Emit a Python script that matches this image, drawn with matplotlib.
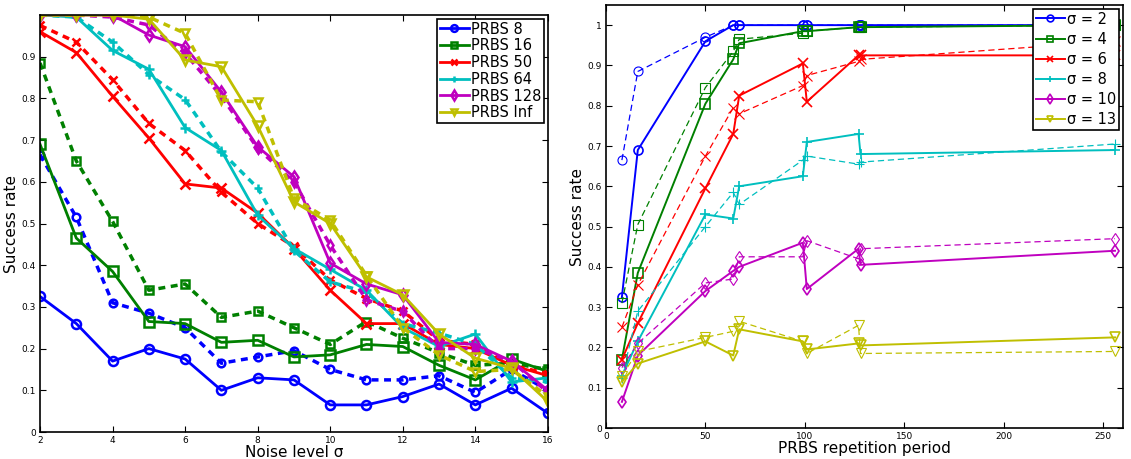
import numpy as np
import matplotlib
matplotlib.use("Agg")
import matplotlib.pyplot as plt

# colores tipo MATLAB
cols = [(0, 0, 1), (0, 0.5, 0), (1, 0, 0), (0, 0.75, 0.75), (0.75, 0, 0.75), (0.75, 0.75, 0)]
marks = ['o', 's', 'x', '+', 'd', 'v']

# Panel izquierdo: tasa de exito vs nivel de ruido
sigma = [2, 3, 4, 5, 6, 7, 8, 9, 10, 11, 12, 13, 14, 15, 16]
prbs_labels = ["PRBS 8", "PRBS 16", "PRBS 50", "PRBS 64", "PRBS 128", "PRBS Inf"]

prbs8 = [0.325, 0.26, 0.17, 0.2, 0.175, 0.1, 0.13, 0.125, 0.065, 0.065, 0.085, 0.115, 0.065, 0.105, 0.045]
prbs8_b = [0.665, 0.515, 0.31, 0.285, 0.25, 0.165, 0.18, 0.195, 0.15, 0.125, 0.125, 0.135, 0.095, 0.15, 0.1]
prbs16 = [0.69, 0.465, 0.385, 0.265, 0.26, 0.215, 0.22, 0.18, 0.185, 0.21, 0.205, 0.16, 0.125, 0.175, 0.145]
prbs16_b = [0.885, 0.65, 0.505, 0.34, 0.355, 0.275, 0.29, 0.25, 0.21, 0.265, 0.225, 0.19, 0.16, 0.165, 0.15]
prbs50 = [0.96, 0.91, 0.805, 0.705, 0.595, 0.585, 0.525, 0.44, 0.34, 0.26, 0.26, 0.21, 0.2, 0.16, 0.135]
prbs50_b = [0.975, 0.935, 0.845, 0.74, 0.675, 0.575, 0.5, 0.445, 0.365, 0.32, 0.29, 0.22, 0.21, 0.16, 0.14]
prbs64 = [1.0, 0.995, 0.915, 0.87, 0.73, 0.675, 0.52, 0.44, 0.39, 0.34, 0.25, 0.205, 0.235, 0.12, 0.13]
prbs64_b = [1.0, 0.995, 0.935, 0.857, 0.797, 0.672, 0.585, 0.435, 0.36, 0.335, 0.26, 0.237, 0.21, 0.13, 0.12]
prbs128 = [1.0, 1.0, 1.0, 0.952, 0.924, 0.815, 0.684, 0.612, 0.405, 0.355, 0.329, 0.215, 0.21, 0.17, 0.1]
prbs128_b = [1.0, 1.0, 0.995, 0.976, 0.908, 0.805, 0.68, 0.6, 0.448, 0.317, 0.289, 0.2, 0.2, 0.17, 0.095]
prbsinf = [1.0, 1.0, 1.0, 0.99, 0.892, 0.876, 0.734, 0.552, 0.5, 0.372, 0.329, 0.235, 0.177, 0.153, 0.073]
prbsinf_b = [1.0, 1.0, 1.0, 0.995, 0.956, 0.796, 0.792, 0.56, 0.508, 0.375, 0.25, 0.185, 0.145, 0.15, 0.085]

izq_sol = [prbs8, prbs16, prbs50, prbs64, prbs128, prbsinf]
izq_dash = [prbs8_b, prbs16_b, prbs50_b, prbs64_b, prbs128_b, prbsinf_b]

# Panel derecho: tasa de exito vs periodo de repeticion
periodo = [8, 16, 50, 64, 67, 99, 101, 127, 128, 256]
sig_labels = ["σ = 2", "σ = 4", "σ = 6", "σ = 8", "σ = 10", "σ = 13"]

s2 = [0.325, 0.69, 0.96, 1.0, 1.0, 1.0, 1.0, 1.0, 1.0, 1.0]
s2_b = [0.665, 0.885, 0.97, 1.0, 1.0, 1.0, 1.0, 1.0, 1.0, 1.0]
s4 = [0.17, 0.385, 0.805, 0.915, 0.955, 0.985, 0.985, 0.995, 0.995, 1.0]
s4_b = [0.31, 0.505, 0.845, 0.935, 0.965, 0.98, 0.985, 0.995, 0.995, 1.0]
s6 = [0.17, 0.26, 0.595, 0.73, 0.825, 0.905, 0.81, 0.925, 0.925, 0.925]
s6_b = [0.25, 0.355, 0.675, 0.795, 0.78, 0.85, 0.875, 0.91, 0.915, 0.96]
s8 = [0.13, 0.215, 0.53, 0.52, 0.6, 0.625, 0.71, 0.73, 0.68, 0.69]
s8_b = [0.125, 0.29, 0.5, 0.585, 0.555, 0.665, 0.675, 0.655, 0.66, 0.705]
s10 = [0.065, 0.18, 0.34, 0.39, 0.4, 0.46, 0.345, 0.445, 0.405, 0.44]
s10_b = [0.15, 0.21, 0.36, 0.37, 0.425, 0.425, 0.465, 0.42, 0.445, 0.47]
s13 = [0.115, 0.16, 0.215, 0.18, 0.245, 0.215, 0.195, 0.21, 0.205, 0.225]
s13_b = [0.13, 0.19, 0.225, 0.24, 0.265, 0.215, 0.185, 0.255, 0.185, 0.19]

der_sol = [s2, s4, s6, s8, s10, s13]
der_dash = [s2_b, s4_b, s6_b, s8_b, s10_b, s13_b]

fig = plt.figure(figsize=(11.31, 4.59), dpi=100)
ax1 = fig.add_axes([0.0354, 0.0588, 0.449, 0.9085])
ax2 = fig.add_axes([0.5358, 0.0675, 0.4571, 0.9216])

for i in range(6):
    ax1.plot(sigma, izq_dash[i], color=cols[i], marker=marks[i], mfc='none', ms=5.5,
             mew=1.8, lw=2.5, dashes=(2, 1.6))
    ax1.plot(sigma, izq_sol[i], color=cols[i], marker=marks[i], mfc='none', ms=6.5,
             mew=1.8, lw=2, label=prbs_labels[i])

for i in range(6):
    ax2.plot(periodo, der_dash[i], color=cols[i], marker=marks[i], mfc='none', ms=6.5,
             mew=0.8, lw=0.9, dashes=(5, 3))
    ax2.plot(periodo, der_sol[i], color=cols[i], marker=marks[i], mfc='none', ms=6.5,
             mew=1.2, lw=1.4, label=sig_labels[i])

ax1.set_xlim(2, 16)
ax1.set_ylim(0, 1)
ax1.set_xticks(range(2, 17, 2))
ax1.set_yticks(np.arange(0, 0.95, 0.1))
ax1.set_yticklabels(["0", "0.1", "0.2", "0.3", "0.4", "0.5", "0.6", "0.7", "0.8", "0.9"])
ax1.set_xlabel("Noise level σ", fontsize=11, labelpad=0)
ax1.set_ylabel("Success rate", fontsize=11, labelpad=2)

ax2.set_xlim(0, 260)
ax2.set_ylim(0, 1.05)
ax2.set_xticks([0, 50, 100, 150, 200, 250])
ax2.set_yticks(np.arange(0, 1.05, 0.1))
ax2.set_yticklabels(["0", "0.1", "0.2", "0.3", "0.4", "0.5", "0.6", "0.7", "0.8", "0.9", "1"])
ax2.set_xlabel("PRBS repetition period", fontsize=11, labelpad=0)
ax2.set_ylabel("Success rate", fontsize=11, labelpad=2)

for ax, sp in ((ax1, 0.12), (ax2, 0.35)):
    ax.tick_params(direction='in', top=True, right=True, labelsize=6.5, length=4, pad=3)
    for s in ax.spines.values():
        s.set_linewidth(1.2)
    leg = ax.legend(loc='upper right', fontsize=10.5, fancybox=False, framealpha=1,
                    edgecolor='black', borderpad=0.2, labelspacing=sp, markerscale=0.75,
                    handlelength=2.0, handletextpad=0.15, borderaxespad=0.25)
    leg.get_frame().set_linewidth(1.2)

fig.savefig("out.png", dpi=100)
